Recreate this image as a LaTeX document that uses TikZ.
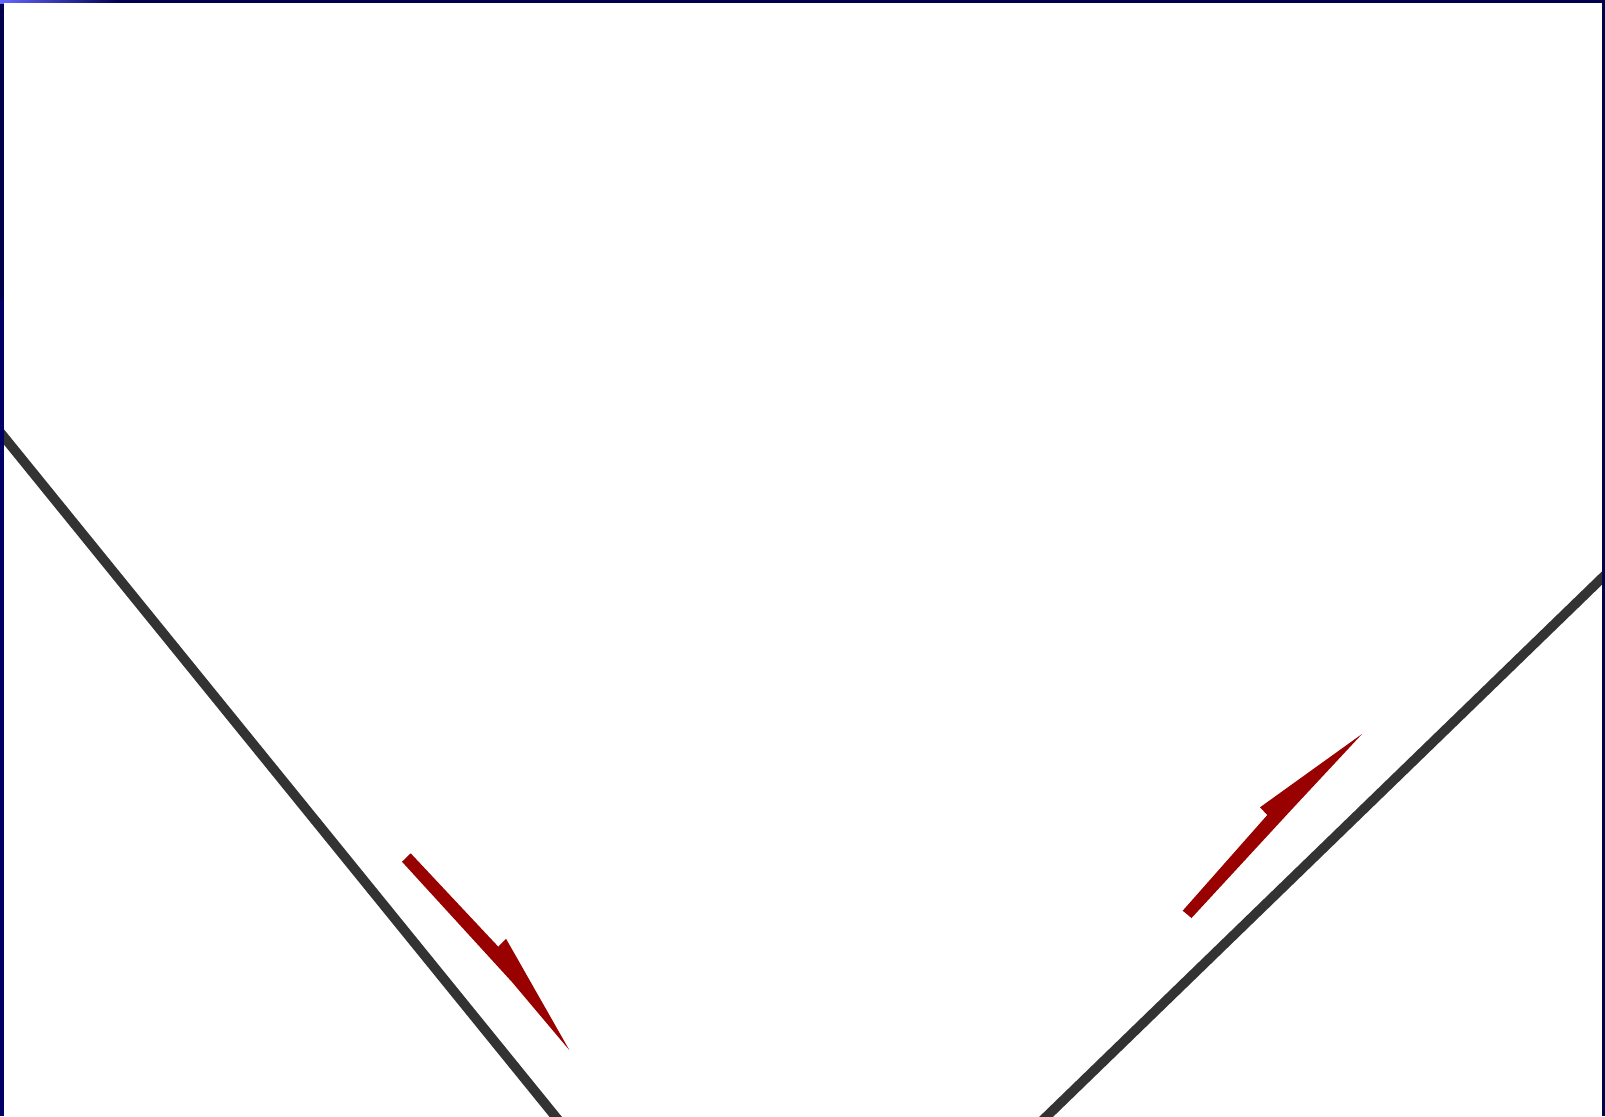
\documentclass[tikz,border=0pt]{standalone}
\usetikzlibrary{calc}
\begin{document}
\begin{tikzpicture}[x=0.5pt,y=-0.5pt,
  rail/.style={draw=black!80,line width=4.8pt},
  redarrow/.style={fill=red!60!black,draw=none}]
\useasboundingbox (0,0) rectangle (1605,1116);
% frame
\fill[blue!30!black] (0,0) rectangle (1605,1116);
\shade[left color=blue!60!white,right color=blue!30!black,draw=none] (0,0) rectangle (120,3);
\fill[blue!40!black] (0,300) rectangle (4,1116);
\fill[white] (4,3) rectangle (1602,1116);
\begin{scope}
\clip (4,3) rectangle (1602,1116);
% rails
\coordinate (L1) at (4,437);
\coordinate (L2) at (555,1116);
\coordinate (R1) at (1602,578);
\coordinate (R2) at (1047,1116);
\draw[rail] ($(L1)!-0.05!(L2)$) -- ($(L1)!1.05!(L2)$);
\draw[rail] ($(R1)!-0.05!(R2)$) -- ($(R1)!1.05!(R2)$);
\end{scope}
% left red arrow
\fill[redarrow] (402,861.7) -- (410.7,853.3) -- (498.3,946.7) -- (506,938.7)
  -- (569.3,1050) -- (512,982) -- cycle;
% right red arrow
\fill[redarrow] (1182.7,910.7) -- (1191.5,918) -- (1293,808) -- (1362,734)
  -- (1260,807.3) -- (1267.3,815) -- cycle;
\end{tikzpicture}
\end{document}
